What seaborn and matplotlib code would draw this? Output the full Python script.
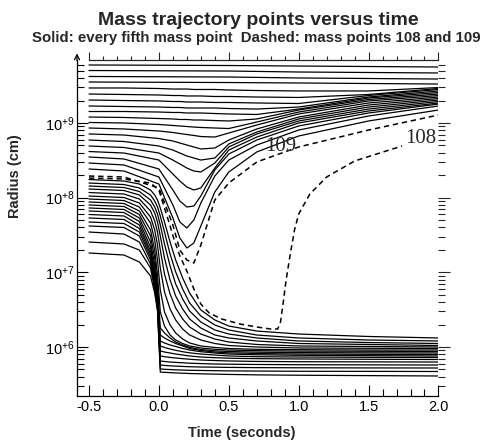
import numpy as np
import pandas as pd
import matplotlib
matplotlib.use('Agg')
import matplotlib.pyplot as plt
import seaborn as sns
from matplotlib.ticker import FixedLocator, MultipleLocator, NullFormatter

sns.set_style('ticks')
plt.rcParams['font.family'] = ['Liberation Sans', 'DejaVu Sans']

# time samples (seconds) for each family of trajectories
t_outer = [-0.5, 0.5, 1.0, 2.0]
t_shock = [-0.5, -0.25, 0.0, 0.1, 0.15, 0.2, 0.25, 0.3, 0.4, 0.5, 0.7, 1.0, 1.5, 2.0]
t_core = [-0.5, -0.25, -0.14, -0.06, -0.03, -0.01, 0.01, 0.04, 0.08, 0.12, 0.17,
          0.22, 0.3, 0.4, 0.5, 0.7, 1.0, 1.5, 2.0]
t_108 = [-0.5, -0.25, -0.06, 0.0, 0.04, 0.08, 0.11, 0.15, 0.2, 0.25, 0.3, 0.36, 0.45,
         0.58, 0.7, 0.8, 0.85, 0.87, 0.89, 0.91, 0.94, 0.97, 1.0, 1.08, 1.2, 1.4, 1.58, 1.74]

# log10 radius (cm)
# outer envelope, nearly at rest
outer_1 = [9.777, 9.770, 9.763, 9.750]
outer_2 = [9.703, 9.696, 9.683, 9.670]
outer_3 = [9.623, 9.616, 9.603, 9.589]
outer_4 = [9.549, 9.542, 9.536, 9.522]

# shells swept up by the shock
shock_01 = [9.469, 9.469, 9.462, 9.455, 9.455, 9.455, 9.449, 9.449, 9.449, 9.442, 9.435, 9.429, 9.429, 9.475]
shock_02 = [9.388, 9.382, 9.375, 9.368, 9.368, 9.362, 9.362, 9.362, 9.355, 9.355, 9.348, 9.342, 9.382, 9.462]
shock_03 = [9.308, 9.301, 9.295, 9.288, 9.288, 9.281, 9.281, 9.281, 9.275, 9.275, 9.268, 9.261, 9.368, 9.449]
shock_04 = [9.228, 9.221, 9.214, 9.208, 9.208, 9.201, 9.201, 9.201, 9.201, 9.194, 9.187, 9.214, 9.348, 9.429]
shock_05 = [9.154, 9.154, 9.147, 9.141, 9.141, 9.134, 9.134, 9.134, 9.127, 9.121, 9.114, 9.187, 9.335, 9.408]
shock_06 = [9.080, 9.074, 9.060, 9.054, 9.047, 9.047, 9.040, 9.040, 9.033, 9.027, 9.054, 9.174, 9.315, 9.388]
shock_07 = [9.007, 9.000, 8.980, 8.967, 8.960, 8.953, 8.946, 8.940, 8.933, 8.926, 9.013, 9.147, 9.295, 9.368]
shock_08 = [8.933, 8.920, 8.893, 8.873, 8.859, 8.846, 8.833, 8.819, 8.812, 8.866, 8.973, 9.121, 9.268, 9.348]
shock_09 = [8.853, 8.839, 8.792, 8.759, 8.732, 8.705, 8.679, 8.652, 8.665, 8.772, 8.920, 9.080, 9.241, 9.328]
shock_10 = [8.772, 8.752, 8.692, 8.638, 8.598, 8.558, 8.531, 8.504, 8.531, 8.719, 8.879, 9.054, 9.214, 9.308]
shock_11 = [8.692, 8.672, 8.598, 8.504, 8.451, 8.397, 8.357, 8.344, 8.464, 8.679, 8.853, 9.027, 9.187, 9.288]
shock_12 = [8.618, 8.598, 8.504, 8.317, 8.223, 8.143, 8.103, 8.130, 8.397, 8.638, 8.812, 9.000, 9.161, 9.268]
shock_13 = [8.545, 8.518, 8.384, 8.103, 7.955, 7.875, 7.888, 8.022, 8.371, 8.585, 8.772, 8.960, 9.134, 9.254]
shock_14 = [8.464, 8.438, 8.277, 7.902, 7.674, 7.594, 7.701, 7.929, 8.290, 8.504, 8.705, 8.906, 9.094, 9.228]
shock_15 = [8.384, 8.357, 8.183, 7.728, 7.460, 7.326, 7.393, 7.621, 8.076, 8.344, 8.612, 8.826, 9.027, 9.174]

# core shells falling onto the proto-neutron star
core_01 = [8.243, 8.223, 8.183, 8.103, 8.036, 7.969, 7.862, 7.674, 7.406, 7.165, 6.924, 6.723, 6.496, 6.362, 6.281, 6.214, 6.174, 6.141, 6.121]
core_02 = [8.196, 8.176, 8.130, 8.036, 7.955, 7.875, 7.755, 7.540, 7.246, 7.005, 6.777, 6.589, 6.415, 6.295, 6.228, 6.161, 6.121, 6.094, 6.081]
core_03 = [8.156, 8.136, 8.083, 7.969, 7.875, 7.781, 7.634, 7.380, 7.085, 6.844, 6.643, 6.482, 6.335, 6.228, 6.174, 6.121, 6.081, 6.060, 6.047]
core_04 = [8.116, 8.096, 8.036, 7.902, 7.795, 7.674, 7.487, 7.192, 6.897, 6.683, 6.509, 6.375, 6.255, 6.161, 6.121, 6.081, 6.047, 6.034, 6.020]
core_05 = [8.069, 8.049, 7.982, 7.822, 7.688, 7.540, 7.299, 6.978, 6.710, 6.522, 6.375, 6.268, 6.174, 6.107, 6.067, 6.034, 6.014, 6.007, 6.000]
core_06 = [8.022, 8.002, 7.929, 7.741, 7.567, 7.366, 7.058, 6.737, 6.509, 6.362, 6.241, 6.161, 6.094, 6.047, 6.020, 6.000, 5.987, 5.983, 5.980]
core_07 = [7.982, 7.962, 7.875, 7.661, 7.433, 7.165, 6.764, 6.469, 6.295, 6.188, 6.107, 6.054, 6.014, 5.994, 5.980, 5.969, 5.964, 5.960, 5.960]
core_08 = [7.942, 7.922, 7.822, 7.567, 7.299, 6.964, 6.469, 6.281, 6.161, 6.094, 6.047, 6.014, 5.987, 5.969, 5.960, 5.951, 5.945, 5.943, 5.940]
core_09 = [7.902, 7.882, 7.775, 7.487, 7.192, 6.830, 6.255, 6.188, 6.121, 6.067, 6.027, 5.994, 5.967, 5.949, 5.940, 5.931, 5.925, 5.922, 5.920]
core_10 = [7.862, 7.842, 7.728, 7.406, 7.098, 6.737, 6.161, 6.121, 6.081, 6.047, 6.014, 5.980, 5.953, 5.933, 5.922, 5.913, 5.906, 5.902, 5.900]
core_11 = [7.822, 7.801, 7.681, 7.339, 7.031, 6.683, 6.081, 6.054, 6.027, 6.007, 5.980, 5.960, 5.937, 5.920, 5.906, 5.896, 5.889, 5.884, 5.880]
core_12 = [7.775, 7.755, 7.634, 7.286, 6.978, 6.643, 6.014, 5.994, 5.973, 5.956, 5.937, 5.922, 5.906, 5.893, 5.880, 5.870, 5.866, 5.862, 5.860]
core_13 = [7.728, 7.708, 7.587, 7.246, 6.924, 6.616, 5.947, 5.933, 5.920, 5.906, 5.893, 5.880, 5.866, 5.857, 5.850, 5.844, 5.840, 5.836, 5.833]
core_14 = [7.674, 7.654, 7.540, 7.206, 6.884, 6.589, 5.880, 5.870, 5.861, 5.853, 5.844, 5.836, 5.826, 5.819, 5.813, 5.807, 5.803, 5.801, 5.799]
core_15 = [7.621, 7.601, 7.487, 7.165, 6.844, 6.563, 5.813, 5.806, 5.799, 5.794, 5.789, 5.783, 5.778, 5.772, 5.770, 5.766, 5.763, 5.761, 5.759]
core_16 = [7.540, 7.513, 7.406, 7.112, 6.804, 6.536, 5.759, 5.754, 5.748, 5.744, 5.740, 5.736, 5.732, 5.730, 5.727, 5.724, 5.722, 5.720, 5.719]
core_17 = [7.406, 7.380, 7.299, 7.058, 6.764, 6.509, 5.706, 5.702, 5.698, 5.694, 5.691, 5.688, 5.686, 5.683, 5.680, 5.678, 5.675, 5.674, 5.672]
core_18 = [7.259, 7.232, 7.139, 6.951, 6.723, 6.482, 5.665, 5.661, 5.657, 5.653, 5.649, 5.645, 5.641, 5.637, 5.633, 5.627, 5.622, 5.617, 5.612]

# the two highlighted mass points
mass_109 = [8.290, 8.277, 8.130, 7.634, 7.299, 7.165, 7.125, 7.366, 7.969, 8.196, 8.478, 8.679, 8.906, 9.107]
mass_108 = [8.263, 8.250, 8.196, 8.103, 7.862, 7.621, 7.433, 7.219, 7.018, 6.777, 6.576, 6.455, 6.375,
            6.308, 6.268, 6.241, 6.241, 6.335, 6.603, 6.897, 7.246, 7.567, 7.781, 8.049, 8.277, 8.491, 8.598, 8.692]

outer_lines = [outer_1, outer_2, outer_3, outer_4]
shock_lines = [shock_01, shock_02, shock_03, shock_04, shock_05, shock_06, shock_07, shock_08,
               shock_09, shock_10, shock_11, shock_12, shock_13, shock_14, shock_15]
core_lines = [core_01, core_02, core_03, core_04, core_05, core_06, core_07, core_08, core_09,
              core_10, core_11, core_12, core_13, core_14, core_15, core_16, core_17, core_18]


def to_frame(times, lines, name):
    rows = []
    for i, vals in enumerate(lines):
        for t, v in zip(times, vals):
            rows.append((f'{name}{i}', t, 10 ** v))
    return pd.DataFrame(rows, columns=['line', 'time', 'radius'])


solid = pd.concat([to_frame(t_outer, outer_lines, 'o'),
                   to_frame(t_shock, shock_lines, 's'),
                   to_frame(t_core, core_lines, 'c')], ignore_index=True)
dashed = pd.concat([to_frame(t_shock, [mass_109], 'm109'),
                    to_frame(t_108, [mass_108], 'm108')], ignore_index=True)

fig = plt.figure(figsize=(4.91, 4.43), dpi=100)
ax = fig.add_axes([0.1568, 0.1061, 0.7362, 0.7585])
ax.set_yscale('log')

sns.lineplot(data=solid, x='time', y='radius', units='line', estimator=None, sort=False,
             color='black', lw=0.9, ax=ax, legend=False)
sns.lineplot(data=dashed, x='time', y='radius', units='line', estimator=None, sort=False,
             color='black', lw=1.1, linestyle=(0, (3.5, 2.5)), ax=ax, legend=False)

ax.set_xlim(-0.586, 2.0)
ax.set_ylim(10 ** 5.344, 10 ** 9.844)
ax.set_xlabel('')
ax.set_ylabel('')

# bottom / left axes: ticks pointing in
ax.set_xticks([-0.5, 0.0, 0.5, 1.0, 1.5, 2.0])
ax.set_xticklabels(['-0.5', '0.0', '0.5', '1.0', '1.5', '2.0'])
ax.xaxis.set_minor_locator(MultipleLocator(0.1))
decades = [1e6, 1e7, 1e8, 1e9]
minors = [m * d for d in [1e5, 1e6, 1e7, 1e8, 1e9] for m in range(2, 10)]
ax.yaxis.set_major_locator(FixedLocator(decades))
ax.yaxis.set_minor_locator(FixedLocator(minors))
ax.yaxis.set_minor_formatter(NullFormatter())
ax.set_yticklabels([r'$\mathregular{10^{+6}}$', r'$\mathregular{10^{+7}}$',
                    r'$\mathregular{10^{+8}}$', r'$\mathregular{10^{+9}}$'])
ax.tick_params(which='both', direction='in', width=0.8, colors='black', labelsize=10.5)
ax.tick_params(which='major', length=8)
ax.tick_params(which='minor', length=5)
ax.tick_params(axis='y', pad=1.5)
ax.tick_params(axis='x', pad=3)
for side in ['top', 'right']:
    ax.spines[side].set_visible(False)
for side in ['left', 'bottom']:
    ax.spines[side].set_linewidth(0.9)
    ax.spines[side].set_color('black')

# top axis: ticks pointing out, starting at -0.5
top = ax.secondary_xaxis('top')
top.set_xticks([-0.5, 0.0, 0.5, 1.0, 1.5, 2.0])
top.xaxis.set_minor_locator(MultipleLocator(0.1))
top.tick_params(which='both', direction='out', width=0.8, labeltop=False)
top.tick_params(which='major', length=5.5)
top.tick_params(which='minor', length=3)
top.spines['top'].set_bounds(-0.5, 2.0)
top.spines['top'].set_linewidth(0.9)

# right axis: log ticks pointing out, no spine
right = ax.secondary_yaxis('right')
right.yaxis.set_major_locator(FixedLocator(decades))
right.yaxis.set_minor_locator(FixedLocator(minors))
right.tick_params(which='both', direction='out', width=0.8, labelright=False)
right.tick_params(which='major', length=8.5)
right.tick_params(which='minor', length=5)
right.spines['right'].set_visible(False)

# arrow on the radius axis
ax.annotate('', xy=(0, 1.028), xycoords='axes fraction', xytext=(0, 0.99),
            arrowprops=dict(arrowstyle='->', lw=0.9, color='black', mutation_scale=9))

ax.text(0.871, 10 ** 8.692, '109', family='Liberation Serif', fontsize=15,
        ha='center', va='center')
ax.text(1.871, 10 ** 8.786, '108', family='Liberation Serif', fontsize=15,
        ha='center', va='center')

fig.text(0.527, 0.9436, 'Mass trajectory points versus time', ha='center', va='baseline',
         fontsize=14, fontweight='bold')
fig.text(0.522, 0.9052, 'Solid: every fifth mass point  Dashed: mass points 108 and 109',
         ha='center', va='baseline', fontsize=10.8, fontweight='bold')
fig.text(0.493, 0.0135, 'Time (seconds)', ha='center', va='baseline', fontsize=10.5,
         fontweight='bold')
fig.text(0.0305, 0.6027, 'Radius (cm)', ha='center', va='center', rotation=90,
         fontsize=10.5, fontweight='bold')

fig.savefig('out.png', dpi=100)
